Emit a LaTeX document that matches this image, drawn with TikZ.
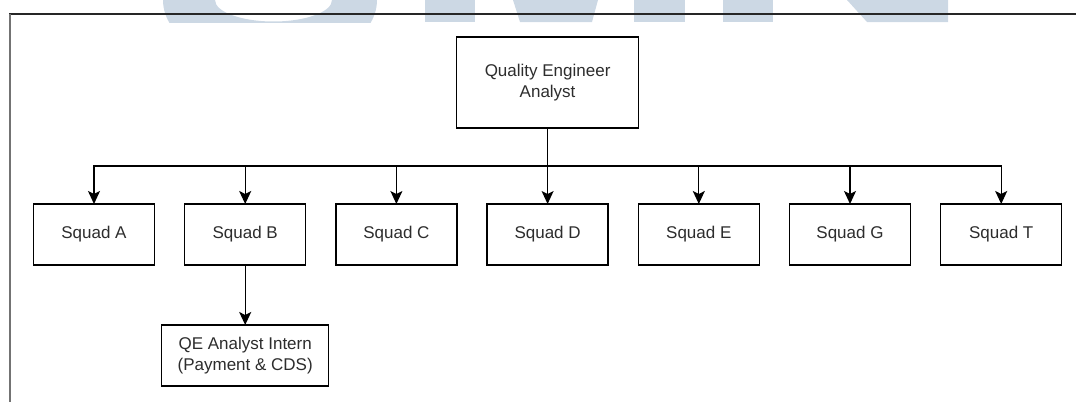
\documentclass[tikz,border=0pt]{standalone}
\usepackage{fontspec}
\setmainfont{Liberation Sans}
\usetikzlibrary{arrows.meta}
\definecolor{wm}{RGB}{204,216,228}
\definecolor{txt}{RGB}{45,45,45}
\tikzset{
  box/.style={draw=black, line width=1.3pt, fill=white, align=center, inner sep=0pt, outer sep=0pt,
    text=txt, font=\fontsize{17}{21}\selectfont},
  squad/.style={box, minimum width=121pt, minimum height=61pt},
  arr/.style={draw=black, line width=1.3pt, -{Stealth[length=13pt,width=12pt,inset=3pt]}},
}
\begin{document}
\begin{tikzpicture}[x=1pt,y=-1pt]
\useasboundingbox (0,0) rectangle (1076,402);
% watermark
\begin{scope}
  \clip (0,0) rectangle (1076,22);
  \fill[wm, even odd rule] (270,0) ellipse [x radius=107, y radius=67] (273.5,0) ellipse [x radius=58.5, y radius=21.5];
  \fill[wm] (425,0) rectangle (475,22);
  \fill[wm] (513,0) -- (598,0) -- (592,22) -- (520,22) -- cycle;
  \fill[wm] (634,0) rectangle (685,22);
  \fill[wm] (723,0) rectangle (773,22);
  \fill[wm] (847,0) -- (948,0) -- (948,22) -- (867,22) -- cycle;
\end{scope}
% frame
\draw[line width=1.5pt, black!85] (9,14) -- (1076,14);
\draw[line width=2pt, black!55] (10,14) -- (10,402);
% nodes
\node[box, minimum width=182pt, minimum height=91pt] (top) at (547.6,82.5) {Quality Engineer\\Analyst};
\node[squad] (sA) at (94,234.5) {Squad A};
\node[squad] (sB) at (245.2,234.5) {Squad B};
\node[squad] (sC) at (396.4,234.5) {Squad C};
\node[squad] (sD) at (547.6,234.5) {Squad D};
\node[squad] (sE) at (698.8,234.5) {Squad E};
\node[squad] (sG) at (850,234.5) {Squad G};
\node[squad] (sT) at (1001.2,234.5) {Squad T};
\node[box, minimum width=167pt, minimum height=61pt] (qe) at (245.2,355.5) {QE Analyst Intern\\(Payment \& CDS)};
\coordinate (bus) at (0,166);
% connectors
\foreach \s in {sA,sB,sC,sD,sE,sG,sT}{
  \draw[arr] (top.south) -- (top.south |- bus) -| (\s.north);
}
\draw[arr] (sB.south) -- (qe.north);
\end{tikzpicture}
\end{document}
